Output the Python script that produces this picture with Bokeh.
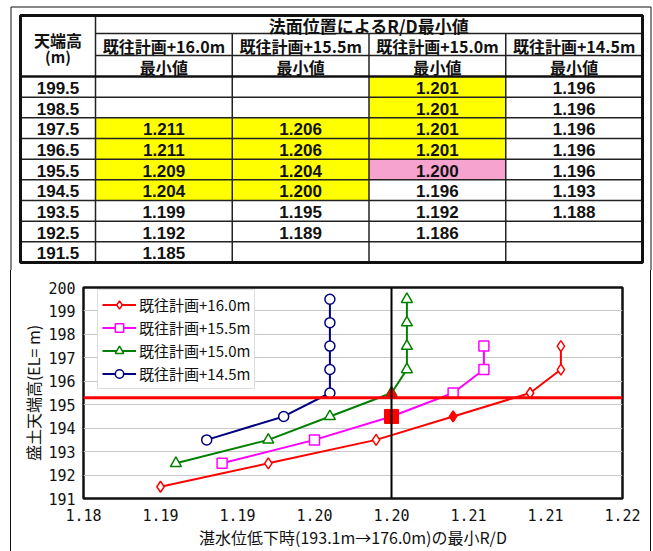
import math
from bokeh.plotting import figure
from bokeh.models import (Range1d, FixedTicker, Span, Legend, LegendItem,
                          CustomJSTickFormatter)
from bokeh.layouts import column
from bokeh.embed import file_html
from bokeh.resources import INLINE
from bokeh.core.properties import value

nan = float("nan")

# ---------------- data ----------------
heights = [199.5, 198.5, 197.5, 196.5, 195.5, 194.5, 193.5, 192.5, 191.5]
series_names = ["既往計画+16.0m", "既往計画+15.5m", "既往計画+15.0m", "既往計画+14.5m"]
rd_16_0 = [nan, nan, 1.211, 1.211, 1.209, 1.204, 1.199, 1.192, 1.185]
rd_15_5 = [nan, nan, 1.206, 1.206, 1.204, 1.200, 1.195, 1.189, nan]
rd_15_0 = [1.201, 1.201, 1.201, 1.201, 1.200, 1.196, 1.192, 1.186, nan]
rd_14_5 = [1.196, 1.196, 1.196, 1.196, 1.196, 1.193, 1.188, nan, nan]
series_values = [rd_16_0, rd_15_5, rd_15_0, rd_14_5]

rd_required = 1.200          # required minimum R/D
design_crest = 195.3         # adopted crest elevation
chosen_series = 2            # index of the chosen slope position
chosen_height = 195.5

table_title = "法面位置によるR/D最小値"
corner_title = ["天端高", "(m)"]
sub_header = "最小値"

x_ticks = [1.18, 1.185, 1.19, 1.195, 1.20, 1.205, 1.21, 1.215]
x_tick_labels = ["1.18", "1.19", "1.19", "1.20", "1.20", "1.21", "1.21", "1.22"]
y_ticks = [191, 192, 193, 194, 195, 196, 197, 198, 199, 200]
x_title = "湛水位低下時(193.1m→176.0m)の最小R/D"
y_title = "盛土天端高(EL= m)"

# ---------------- styles ----------------
colors = ["#FF0000", "#FF00FF", "#008000", "#000080"]
markers = ["diamond", "square", "triangle", "circle"]
marker_sizes = [11, 10, 11, 10]
accent_sizes = [11, 14, 10, 10]
YELLOW = "#FFFF00"
PINK = "#F7A3CF"
CJK = "Noto Sans CJK JP"
NUM = "Liberation Sans"
MONO = "DejaVu Sans Mono"

W = 653
TH = 270
CH = 281
FRAME_L, FRAME_R, FRAME_T = 10.5, 650.5, 6.5

# ---------------- table figure ----------------
t = figure(width=W, height=TH, x_range=Range1d(0, W), y_range=Range1d(TH, 0),
           output_backend="svg", toolbar_location=None,
           x_axis_type=None, y_axis_type=None, min_border=0)
t.grid.visible = False
t.outline_line_color = None
t.background_fill_color = "white"
t.border_fill_color = "white"

L, R, C1 = 20, 642, 95
TOP, H1, H2, H3, BOT = 15, 33, 55, 76, 262
ncol = len(series_names)
nrow = len(heights)
cw = (R - C1) / ncol
rh = (BOT - H3) / nrow

# outer page frame (top/left/right)
t.multi_line(xs=[[FRAME_L, FRAME_L, FRAME_R, FRAME_R]],
             ys=[[TH + 2, FRAME_T, FRAME_T, TH + 2]],
             line_color="#111111", line_width=1)

# highlighted cells
qx0, qx1, qy0, qy1, qc = [], [], [], [], []
for j, vals in enumerate(series_values):
    for i, v in enumerate(vals):
        if math.isnan(v):
            continue
        if j == chosen_series and heights[i] == chosen_height:
            col = PINK
        elif v >= rd_required:
            col = YELLOW
        else:
            continue
        qx0.append(C1 + j * cw); qx1.append(C1 + (j + 1) * cw)
        qy0.append(H3 + i * rh); qy1.append(H3 + (i + 1) * rh)
        qc.append(col)
t.quad(left=qx0, right=qx1, top=qy0, bottom=qy1, fill_color=qc, line_color=None)

# grid lines
sx0, sy0, sx1, sy1 = [], [], [], []
for y in (H1, H2):
    sx0.append(C1); sx1.append(R); sy0.append(y); sy1.append(y)
for i in range(1, nrow):
    y = H3 + i * rh
    sx0.append(L); sx1.append(R); sy0.append(y); sy1.append(y)
sx0.append(C1); sx1.append(C1); sy0.append(TOP); sy1.append(BOT)
for j in range(1, ncol):
    x = C1 + j * cw
    sx0.append(x); sx1.append(x); sy0.append(H1); sy1.append(BOT)
t.segment(x0=sx0, y0=sy0, x1=sx1, y1=sy1, line_color="#222222", line_width=1.5)
t.segment(x0=[L], y0=[H3], x1=[R], y1=[H3], line_color="#111111", line_width=2.5)
t.quad(left=[L], right=[R], top=[TOP], bottom=[BOT], fill_color=None,
       line_color="#111111", line_width=3)

def ttext(xs, ys, txt, font, size, style="bold"):
    t.text(x=xs, y=ys, text=txt, text_align="center", text_baseline="middle",
           text_font=value(font), text_font_size=value(size),
           text_font_style=style, text_color="#111111")

ttext([(C1 + R) / 2], [(TOP + H1) / 2 + 1], [table_title], CJK, "17px")
ttext([(L + C1) / 2], [39], [corner_title[0]], CJK, "16px")
ttext([(L + C1) / 2], [56], [corner_title[1]], CJK, "15px")
ttext([C1 + (j + 0.5) * cw for j in range(ncol)], [(H1 + H2) / 2 + 1.5] * ncol,
      series_names, CJK, "16px")
ttext([C1 + (j + 0.5) * cw for j in range(ncol)], [(H2 + H3) / 2 + 1] * ncol,
      [sub_header] * ncol, CJK, "16px")
ttext([(L + C1) / 2] * nrow, [H3 + (i + 0.5) * rh + 1 for i in range(nrow)],
      [f"{h:.1f}" for h in heights], NUM, "17px")
nx, ny, nt = [], [], []
for j, vals in enumerate(series_values):
    for i, v in enumerate(vals):
        if math.isnan(v):
            continue
        nx.append(C1 + (j + 0.5) * cw); ny.append(H3 + (i + 0.5) * rh + 1)
        nt.append(f"{v:.3f}")
ttext(nx, ny, nt, NUM, "17px")

# ---------------- chart figure ----------------
p = figure(width=639, height=CH, x_range=Range1d(1.18, 1.215), y_range=Range1d(191, 200),
           output_backend="svg", toolbar_location=None,
           min_border_left=72, min_border_right=28, min_border_top=17,
           min_border_bottom=53)
p.background_fill_color = "white"
p.border_fill_color = "white"
p.outline_line_color = "#111111"
p.outline_line_width = 2.5
p.xgrid.visible = False
p.ygrid.grid_line_color = "#C8C8C8"
p.ygrid.grid_line_width = 1

p.xaxis.ticker = FixedTicker(ticks=x_ticks)
p.xaxis.formatter = CustomJSTickFormatter(
    args=dict(tick_values=x_ticks, tick_texts=x_tick_labels),
    code="""
    for (let i = 0; i < tick_values.length; i++) {
        if (Math.abs(tick_values[i] - tick) < 1e-9) { return tick_texts[i]; }
    }
    return "";
    """)
p.yaxis.ticker = FixedTicker(ticks=y_ticks)
for ax in (p.xaxis[0], p.yaxis[0]):
    ax.axis_line_color = None
    ax.major_tick_line_color = None
    ax.minor_tick_line_color = None
    ax.major_tick_out = 0
    ax.major_tick_in = 0
    ax.major_label_text_font = MONO
    ax.major_label_text_font_size = "15px"
    ax.major_label_text_color = "#111111"
    ax.axis_label_text_font = CJK
    ax.axis_label_text_font_size = "16px"
    ax.axis_label_text_font_style = "normal"
    ax.axis_label_text_color = "#111111"
p.xaxis.axis_label = x_title
p.yaxis.axis_label = y_title
p.xaxis.major_label_standoff = 10
p.xaxis.axis_label_standoff = 1
p.yaxis.major_label_standoff = 8
p.yaxis.axis_label_standoff = 0

items = []
for j, vals in enumerate(series_values):
    xs = [v for v in vals if not math.isnan(v)]
    ys = [h for h, v in zip(heights, vals) if not math.isnan(v)]
    ln = p.line(xs, ys, line_color=colors[j], line_width=2)
    sc = p.scatter(xs, ys, marker=markers[j], size=marker_sizes[j],
                   line_color=colors[j], fill_color="white", line_width=1.5)
    items.append(LegendItem(label=series_names[j], renderers=[ln, sc]))

# filled accent markers: lowest crest height satisfying required R/D per series
for j, vals in enumerate(series_values):
    ok = [(h, v) for h, v in zip(heights, vals) if not math.isnan(v) and v >= rd_required]
    if not ok:
        continue
    h, v = min(ok)
    p.scatter([v], [h], marker=markers[j], size=accent_sizes[j],
              line_color="#FF0000", fill_color="#FF0000")

p.add_layout(Span(location=design_crest, dimension="width", line_color="#FF0000",
                  line_width=3))
p.add_layout(Span(location=rd_required, dimension="height", line_color="#000000",
                  line_width=2))

leg = Legend(items=items, location=(14, 109), label_text_font=CJK,
             label_text_font_size="15px", label_text_color="#111111",
             glyph_width=34, glyph_height=21, label_height=21, spacing=2,
             padding=4, label_standoff=3, margin=0,
             border_line_color="#BBBBBB", border_line_width=1,
             background_fill_color="white", background_fill_alpha=1)
p.add_layout(leg)

chart_box = column(p, styles={"margin-left": "10px",
                              "border-left": "1px solid #111111",
                              "border-right": "1px solid #111111"})

open("out.html", "w").write(file_html([t, chart_box], INLINE))
